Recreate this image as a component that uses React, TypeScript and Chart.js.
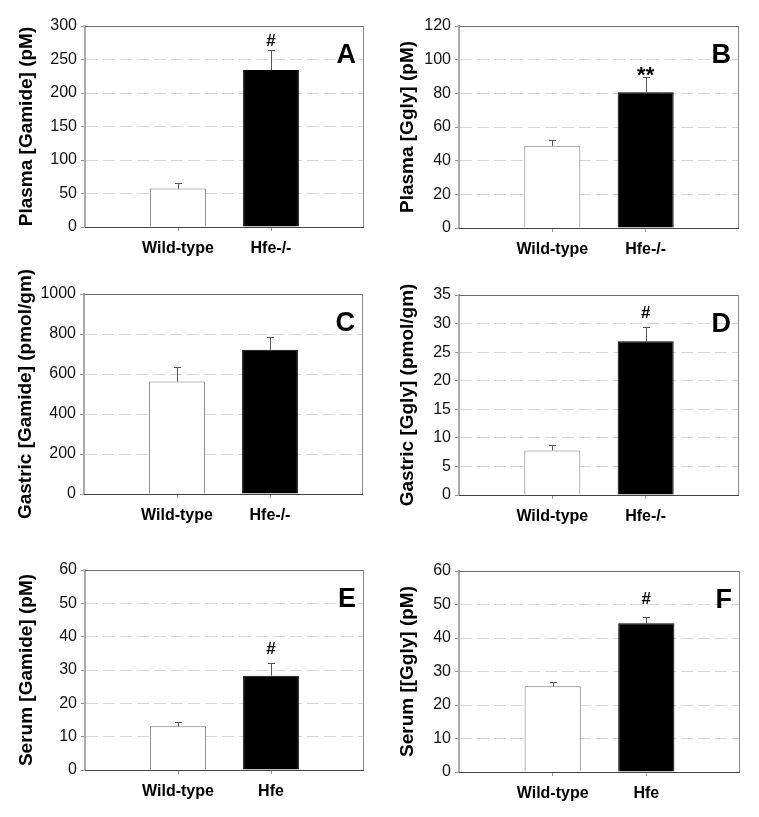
import React, { useEffect, useRef } from 'react';
import { Chart, registerables } from 'chart.js';

Chart.register(...registerables);

// ---------- data ----------
const categoriesKO = ['Wild-type', 'Hfe-/-'];
const categoriesSerum = ['Wild-type', 'Hfe'];

const plasmaGamide = [57.4, 234.2];
const plasmaGamideErr = [9, 30];
const plasmaGgly = [48.8, 80.6];
const plasmaGglyErr = [3.4, 9];
const gastricGamide = [562, 721];
const gastricGamideErr = [73, 62];
const gastricGgly = [7.8, 26.9];
const gastricGglyErr = [0.95, 2.5];
const serumGamide = [13.1, 28.3];
const serumGamideErr = [1.2, 3.9];
const serumGgly = [25.6, 44.4];
const serumGglyErr = [1.3, 2.0];

const yMaxes = [300, 120, 1000, 35, 60, 60];
const ySteps = [50, 20, 200, 5, 10, 10];
const yTitles = [
  'Plasma [Gamide] (pM)',
  'Plasma [Ggly] (pM)',
  'Gastric [Gamide] (pmol/gm)',
  'Gastric [Ggly] (pmol/gm)',
  'Serum [Gamide] (pM)',
  'Serum [[Ggly] (pM)',
];
const panelLetters = ['A', 'B', 'C', 'D', 'E', 'F'];
const significance = [
  ['', '#'],
  ['', '**'],
  ['', ''],
  ['', '#'],
  ['', '#'],
  ['', '#'],
];

const panelValues = [plasmaGamide, plasmaGgly, gastricGamide, gastricGgly, serumGamide, serumGgly];
const panelErrors = [plasmaGamideErr, plasmaGglyErr, gastricGamideErr, gastricGglyErr, serumGamideErr, serumGglyErr];
const panelCategories = [categoriesKO, categoriesKO, categoriesKO, categoriesKO, categoriesSerum, categoriesSerum];

// ---------- layout / style ----------
const FONT = "'Liberation Sans', Arial, sans-serif";
const LAYOUT = [
  { x: 0, y: 0, w: 379, h: 265, padTop: 26, padRight: 15, axisW: 85, axisH: 38, titlePad: 15, markGap: 5, markSize: 17 },
  { x: 380, y: 0, w: 379, h: 265, padTop: 26, padRight: 20, axisW: 79, axisH: 37, titlePad: 16, markGap: -4, markSize: 22 },
  { x: 0, y: 265, w: 379, h: 275, padTop: 29, padRight: 16, axisW: 84, axisH: 46, titlePad: 14.5, markGap: 5, markSize: 17 },
  { x: 380, y: 265, w: 379, h: 275, padTop: 30, padRight: 20, axisW: 79, axisH: 45, titlePad: 16, markGap: 10, markSize: 17 },
  { x: 0, y: 540, w: 379, h: 277, padTop: 30, padRight: 15, axisW: 85, axisH: 47, titlePad: 15, markGap: 10, markSize: 17 },
  { x: 380, y: 540, w: 379, h: 277, padTop: 31, padRight: 19, axisW: 79, axisH: 45, titlePad: 16, markGap: 14, markSize: 17 },
];

function Panel({ idx }: { idx: number }) {
  const ref = useRef<HTMLCanvasElement | null>(null);
  const L = LAYOUT[idx];
  useEffect(() => {
    const canvas = ref.current;
    if (!canvas) return;
    const cats = panelCategories[idx];
    const vals = panelValues[idx];
    const errs = panelErrors[idx];
    const marks = significance[idx];

    const decor = {
      id: 'decor' + idx,
      afterDatasetsDraw(chart: any) {
        const ctx = chart.ctx;
        const ca = chart.chartArea;
        const ys = chart.scales.y;
        const meta = chart.getDatasetMeta(0);
        ctx.save();
        // frame
        ctx.lineWidth = 1;
        ctx.strokeStyle = '#6a6a6a';
        ctx.beginPath();
        ctx.moveTo(Math.round(ca.left), Math.round(ca.top) + 0.5);
        ctx.lineTo(Math.round(ca.right), Math.round(ca.top) + 0.5);
        ctx.stroke();
        ctx.strokeStyle = '#8a8a8a';
        ctx.beginPath();
        ctx.moveTo(Math.round(ca.right) - 0.5, Math.round(ca.top));
        ctx.lineTo(Math.round(ca.right) - 0.5, Math.round(ca.bottom));
        ctx.stroke();
        ctx.strokeStyle = '#444';
        ctx.beginPath();
        ctx.moveTo(Math.round(ca.left), Math.round(ca.bottom) + 0.5);
        ctx.lineTo(Math.round(ca.right), Math.round(ca.bottom) + 0.5);
        ctx.stroke();
        // error bars + significance marks
        meta.data.forEach((el: any, i: number) => {
          const x = Math.round(el.x) + 0.5;
          const yTop = Math.round(ys.getPixelForValue(vals[i] + errs[i])) + 0.5;
          const yVal = el.y;
          ctx.strokeStyle = '#555';
          ctx.lineWidth = 1;
          ctx.beginPath();
          ctx.moveTo(x, yVal);
          ctx.lineTo(x, yTop);
          ctx.moveTo(x - 3.5, yTop);
          ctx.lineTo(x + 3.5, yTop);
          ctx.stroke();
          if (marks[i]) {
            ctx.fillStyle = '#000';
            ctx.font = `bold ${L.markSize}px ${FONT}`;
            ctx.textAlign = 'center';
            ctx.textBaseline = 'alphabetic';
            ctx.fillText(marks[i], el.x, yTop - L.markGap);
          }
        });
        // panel letter
        ctx.fillStyle = '#000';
        ctx.font = `bold 27px ${FONT}`;
        ctx.textAlign = 'right';
        ctx.textBaseline = 'alphabetic';
        ctx.fillText(panelLetters[idx], ca.right - 8, ca.top + 37);
        ctx.restore();
      },
    };

    const chart = new Chart(canvas, {
      type: 'bar',
      data: {
        datasets: [
          {
            data: vals.map((v, i) => ({ x: i + 1, y: v })),
            backgroundColor: ['#ffffff', '#000000'],
            borderColor: ['#777777', '#000000'],
            borderWidth: 1,
            barPercentage: 0.6,
            categoryPercentage: 1,
          },
        ],
      },
      options: {
        responsive: false,
        animation: false,
        devicePixelRatio: 1,
        layout: { padding: { left: 0, top: L.padTop, right: L.padRight, bottom: 0 } },
        plugins: { legend: { display: false }, tooltip: { enabled: false }, title: { display: false } },
        scales: {
          x: {
            type: 'linear',
            min: 0,
            max: 3,
            offset: false,
            grid: {
              offset: false,
              drawOnChartArea: false,
              drawTicks: true,
              tickLength: 4,
              tickColor: '#999',
              color: '#999',
            },
            border: { display: false },
            afterBuildTicks: (s: any) => {
              s.ticks = cats.map((_, i) => ({ value: i + 1 }));
            },
            afterFit: (s: any) => {
              s.height = L.axisH;
            },
            ticks: {
              autoSkip: false,
              maxRotation: 0,
              padding: 8,
              color: '#000',
              font: { family: FONT, size: 16, weight: 'bold' },
              callback: (v: any) => cats[Number(v) - 1] ?? '',
            },
          },
          y: {
            type: 'linear',
            min: 0,
            max: yMaxes[idx],
            ticks: {
              stepSize: ySteps[idx],
              padding: 4,
              color: '#111',
              font: { family: FONT, size: 16 },
              callback: (v: any) => String(v),
            },
            grid: {
              color: '#d6d6d6',
              lineWidth: 1,
              drawTicks: true,
              tickLength: 4,
              tickColor: '#999',
              tickBorderDash: [],
            },
            border: { display: true, color: '#aaaaaa', width: 2, dash: [12, 5] },
            title: {
              display: true,
              text: yTitles[idx],
              color: '#000',
              font: { family: FONT, size: 19, weight: 'bold' },
              padding: { top: L.titlePad, bottom: 0 },
            },
            afterFit: (s: any) => {
              s.width = L.axisW;
            },
          },
        },
      } as any,
      plugins: [decor],
    });
    return () => chart.destroy();
  }, [idx]);

  return (
    <div style={{ position: 'absolute', left: L.x, top: L.y, width: L.w, height: L.h }}>
      <canvas ref={ref} width={L.w} height={L.h} style={{ width: L.w, height: L.h, display: 'block' }} />
    </div>
  );
}

export default function App() {
  return (
    <div style={{ position: 'absolute', left: 0, top: 0, width: 759, height: 817, background: '#fff' }}>
      {[0, 1, 2, 3, 4, 5].map((i) => (
        <Panel key={i} idx={i} />
      ))}
    </div>
  );
}
